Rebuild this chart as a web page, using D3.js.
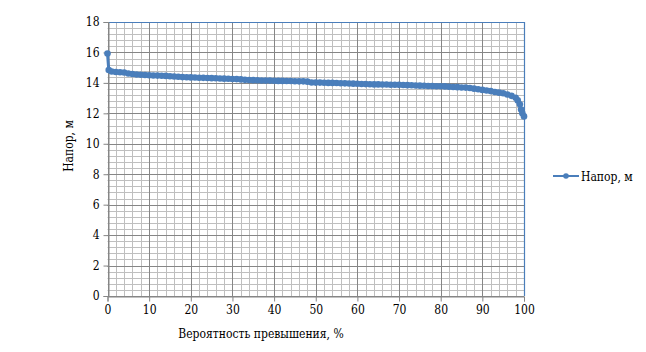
<!DOCTYPE html>
<html>
<head>
<meta charset="utf-8">
<script src="https://cdn.jsdelivr.net/npm/d3@7"></script>
<style>
  body { margin: 0; background: #fff; }
</style>
</head>
<body>
<svg id="chart"></svg>
<script>
// exceedance probability, %
const probability = [0, 0.3, 1, 2, 3, 4, 5, 6, 7, 8, 9, 10, 11, 12, 13, 14, 15, 16, 17, 18, 19, 20,
    21, 22, 23, 24, 25, 26, 27, 28, 29, 30, 31, 32, 33, 34, 35, 36, 37, 38, 39, 40,
    41, 42, 43, 44, 45, 46, 47, 48, 49, 50, 51, 52, 53, 54, 55, 56, 57, 58, 59, 60,
    61, 62, 63, 64, 65, 66, 67, 68, 69, 70, 71, 72, 73, 74, 75, 76, 77, 78, 79, 80,
    81, 82, 83, 84, 85, 86, 87, 88, 89, 90, 91, 92, 93, 94, 95, 96, 97, 98, 98.5, 99, 99.3, 99.6, 100];
// head, m
const head = [15.93, 14.85, 14.75, 14.72, 14.70, 14.68, 14.62, 14.58, 14.55, 14.53, 14.52, 14.50,
    14.49, 14.48, 14.47, 14.46, 14.44, 14.42, 14.40, 14.38, 14.37, 14.36,
    14.35, 14.34, 14.33, 14.32, 14.31, 14.30, 14.29, 14.28, 14.27, 14.26,
    14.25, 14.23, 14.20, 14.19, 14.18, 14.17, 14.16, 14.15, 14.15, 14.14,
    14.13, 14.13, 14.12, 14.12, 14.11, 14.10, 14.10, 14.08, 14.03, 14.02,
    14.02, 14.01, 14.00, 14.00, 13.99, 13.98, 13.97, 13.96, 13.95, 13.94,
    13.93, 13.92, 13.91, 13.90, 13.90, 13.89, 13.89, 13.88, 13.88, 13.87,
    13.86, 13.85, 13.84, 13.83, 13.82, 13.81, 13.80, 13.79, 13.78, 13.78,
    13.77, 13.75, 13.73, 13.72, 13.70, 13.69, 13.66, 13.62, 13.58, 13.54,
    13.50, 13.46, 13.40, 13.36, 13.32, 13.24, 13.15, 13.02, 12.85, 12.60, 12.25, 12.00, 11.80];

const xTicks = [0, 10, 20, 30, 40, 50, 60, 70, 80, 90, 100];
const yTicks = [0, 2, 4, 6, 8, 10, 12, 14, 16, 18];
const seriesName = "Напор, м";
const xTitle = "Вероятность превышения, %";
const yTitle = "Напор, м";

const data = probability.map((p, i) => ({x: p, y: head[i]}));

const width = 646, height = 352;
const plot = {left: 107.5, right: 524, top: 22, bottom: 296};
const blue = "#4a7ebb";
const fontFamily = "'DejaVu Serif Condensed', 'DejaVu Serif', serif";
const fontSize = 12;

const svg = d3.select("#chart")
    .attr("width", width)
    .attr("height", height);

const x = d3.scaleLinear().domain([0, 100]).range([plot.left, plot.right]);
const y = d3.scaleLinear().domain([0, 18]).range([plot.bottom, plot.top]);

// minor grid
const minorX = d3.range(0, 100.001, 2);
const minorY = d3.range(0, 18.001, 0.4);
const grid = svg.append("g");
grid.selectAll(".mx").data(minorX).enter().append("line")
    .attr("x1", d => Math.round(x(d)) + 0.5).attr("x2", d => Math.round(x(d)) + 0.5)
    .attr("y1", plot.top).attr("y2", plot.bottom)
    .attr("stroke", "#bfbfbf").attr("stroke-width", 1);
grid.selectAll(".my").data(minorY).enter().append("line")
    .attr("x1", plot.left).attr("x2", plot.right)
    .attr("y1", d => Math.round(y(d)) + 0.5).attr("y2", d => Math.round(y(d)) + 0.5)
    .attr("stroke", "#bfbfbf").attr("stroke-width", 1);

// major grid
grid.selectAll(".Mx").data(xTicks).enter().append("line")
    .attr("x1", d => Math.round(x(d)) + 0.5).attr("x2", d => Math.round(x(d)) + 0.5)
    .attr("y1", plot.top).attr("y2", plot.bottom)
    .attr("stroke", "#868686").attr("stroke-width", 1);
grid.selectAll(".My").data(yTicks).enter().append("line")
    .attr("x1", plot.left).attr("x2", plot.right)
    .attr("y1", d => Math.round(y(d)) + 0.5).attr("y2", d => Math.round(y(d)) + 0.5)
    .attr("stroke", "#868686").attr("stroke-width", 1);

// blue top and right edges
svg.append("line")
    .attr("x1", plot.left).attr("x2", plot.right)
    .attr("y1", Math.round(y(18)) + 0.5).attr("y2", Math.round(y(18)) + 0.5)
    .attr("stroke", blue).attr("stroke-width", 1.2);
svg.append("line")
    .attr("x1", Math.round(x(100)) + 0.5).attr("x2", Math.round(x(100)) + 0.5)
    .attr("y1", plot.top).attr("y2", plot.bottom)
    .attr("stroke", blue).attr("stroke-width", 1.2);

// axes
const xAxis = d3.axisBottom(x).tickValues(xTicks).tickSize(5).tickPadding(4);
const yAxis = d3.axisLeft(y).tickValues(yTicks).tickSize(5).tickPadding(4);

const gx = svg.append("g")
    .attr("transform", `translate(0, ${Math.round(plot.bottom) + 0.5})`)
    .call(xAxis);
const gy = svg.append("g")
    .attr("transform", `translate(${Math.round(plot.left) + 0.5}, 0)`)
    .call(yAxis);
[gx, gy].forEach(g => {
    g.attr("font-family", fontFamily).attr("font-size", fontSize);
    g.selectAll("path, line").attr("stroke", "#868686");
    g.selectAll("text").attr("fill", "#000");
});

// series
const line = d3.line().x(d => x(d.x)).y(d => y(d.y));
svg.append("path")
    .datum(data)
    .attr("d", line)
    .attr("fill", "none")
    .attr("stroke", blue)
    .attr("stroke-width", 3);
svg.append("g").selectAll("circle")
    .data(data)
    .enter()
    .append("circle")
    .attr("cx", d => x(d.x))
    .attr("cy", d => y(d.y))
    .attr("r", 3.3)
    .attr("fill", blue);

// titles
svg.append("text")
    .attr("x", 261).attr("y", 338)
    .attr("text-anchor", "middle")
    .attr("font-family", fontFamily)
    .attr("font-size", fontSize)
    .text(xTitle);
svg.append("text")
    .attr("transform", "translate(73, 146) rotate(-90)")
    .attr("text-anchor", "middle")
    .attr("font-family", fontFamily)
    .attr("font-size", fontSize)
    .text(yTitle);

// legend
const legend = svg.append("g").attr("transform", "translate(553, 176)");
legend.append("line")
    .attr("x1", 0).attr("x2", 26).attr("y1", 0).attr("y2", 0)
    .attr("stroke", blue).attr("stroke-width", 2);
legend.append("circle")
    .attr("cx", 13).attr("cy", 0).attr("r", 2.8).attr("fill", blue);
legend.append("text")
    .attr("x", 28).attr("y", 4.5)
    .attr("font-family", fontFamily)
    .attr("font-size", fontSize)
    .text(seriesName);
</script>
</body>
</html>
